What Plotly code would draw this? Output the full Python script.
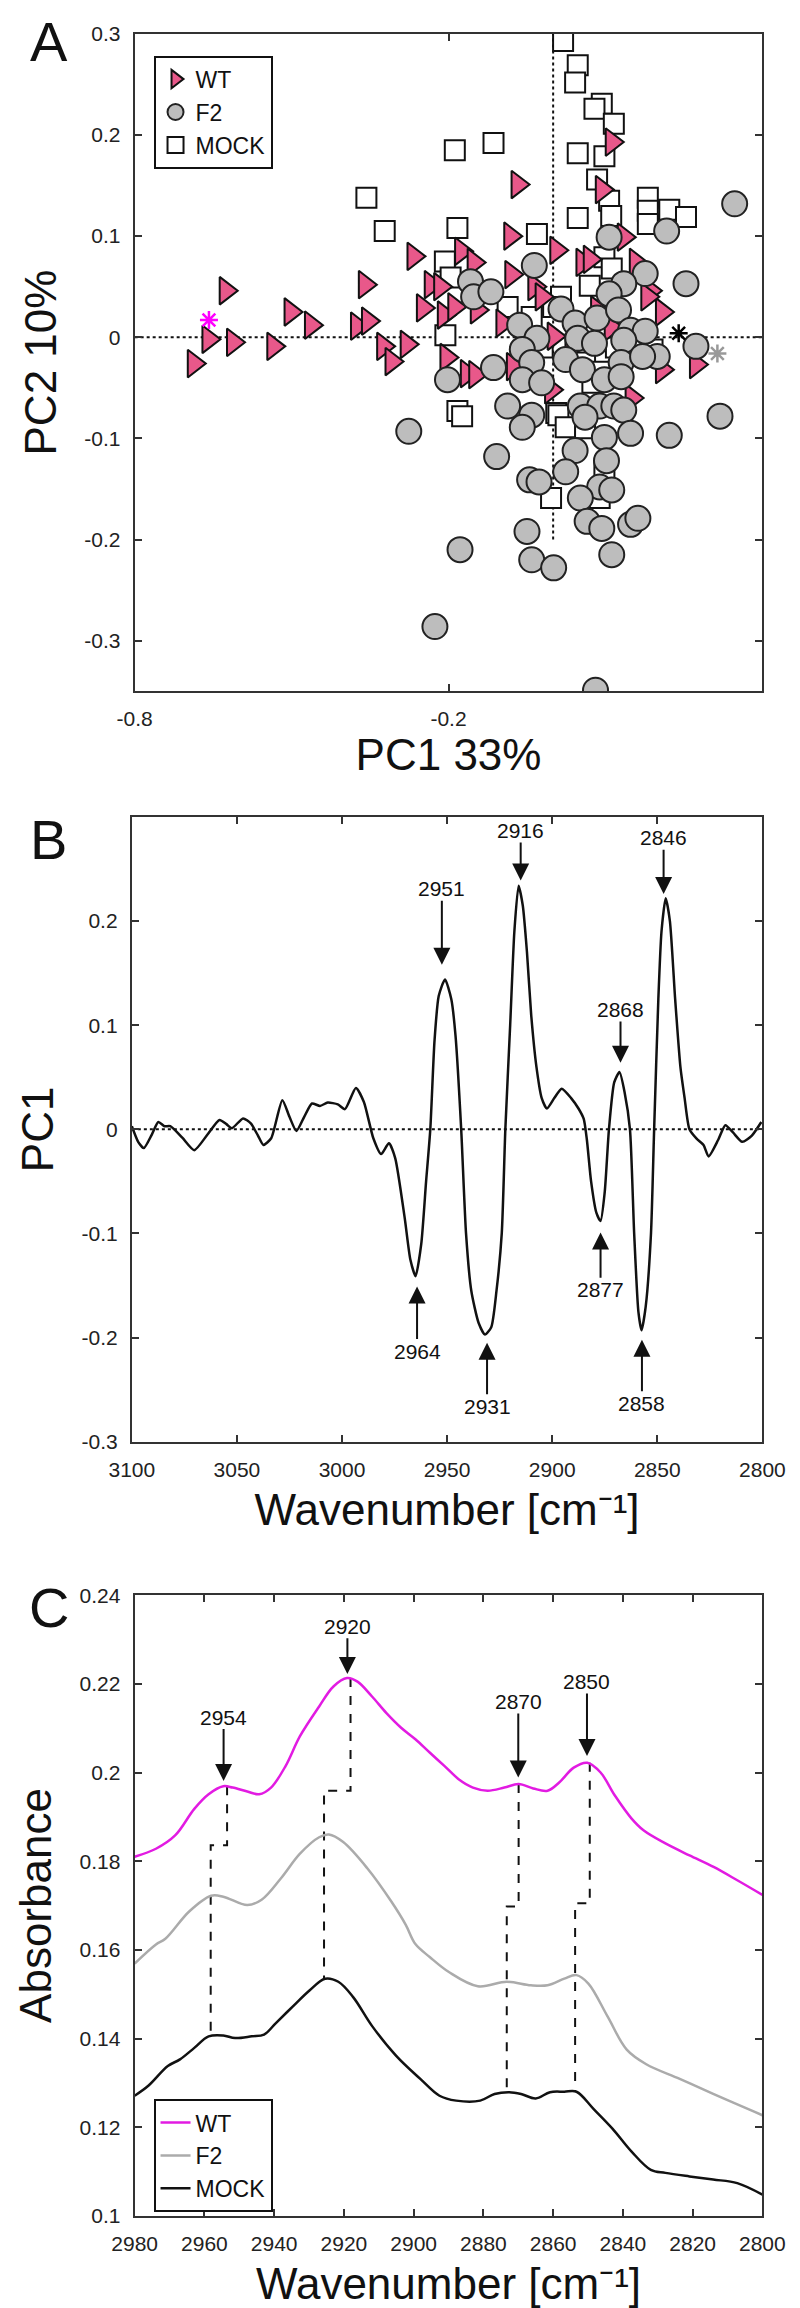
import plotly.graph_objects as go

FONT = "Liberation Sans, Arial, Helvetica, sans-serif"

# ---------------- Panel A : PCA scores ----------------
wt_pc1 = [-0.626, -0.659, -0.687, -0.612, -0.535, -0.502, -0.463, -0.375, -0.354, -0.360,
          -0.325, -0.309, -0.280, -0.267, -0.234, -0.216, -0.249, -0.209, -0.189, -0.176,
          -0.152, -0.146, -0.204, -0.165, -0.149, -0.097, -0.082, -0.080, -0.068, -0.036,
          0.006, 0.001, 0.056, 0.070, 0.093, 0.112, 0.135, 0.158, 0.185, 0.208,
          0.273, 0.208, -0.077, -0.004, -0.022, 0.084, 0.121, 0.180, 0.150, 0.035, 0.110]
wt_pc2 = [0.046, -0.002, -0.026, -0.005, -0.009, 0.025, 0.012, 0.011, 0.016, 0.052,
          -0.009, -0.024, -0.007, 0.080, 0.052, 0.050, 0.029, 0.022, 0.030, 0.085,
          0.074, 0.027, -0.020, -0.036, -0.037, 0.014, 0.100, 0.062, 0.151, 0.050,
          0.086, 0.001, 0.074, 0.077, 0.146, 0.193, 0.099, 0.074, 0.046, 0.025,
          -0.027, -0.032, -0.029, -0.052, 0.040, 0.027, -0.035, 0.040, -0.060, -0.010, 0.010]

f2_pc1 = [0.347, 0.217, 0.107, 0.254, 0.176, 0.135, 0.107, -0.036, -0.158, -0.152,
          -0.119, 0.015, 0.042, 0.084, 0.125, -0.064, 0.148, 0.176, -0.031, 0.047,
          0.079, 0.135, 0.273, 0.199, -0.059, 0.024, -0.041, 0.056, 0.130, 0.171,
          -0.114, -0.202, -0.059, -0.022, 0.098, 0.130, 0.319, -0.087, 0.052, 0.089,
          0.116, 0.135, -0.041, -0.276, -0.059, 0.061, 0.098, 0.148, 0.222, -0.108,
          0.042, 0.102, 0.024, -0.045, -0.027, 0.089, 0.112, 0.052, 0.065, 0.093,
          0.148, 0.162, -0.050, -0.178, -0.041, 0.001, 0.112, -0.226, 0.081]
f2_pc2 = [0.132, 0.105, 0.099, 0.053, 0.063, 0.053, 0.043, 0.071, 0.055, 0.040,
          0.045, 0.028, 0.014, 0.019, 0.027, 0.012, 0.007, 0.006, -0.001, -0.001,
          -0.006, -0.003, -0.009, -0.019, -0.012, -0.022, -0.025, -0.032, -0.025, -0.019,
          -0.030, -0.042, -0.042, -0.045, -0.042, -0.039, -0.078, -0.068, -0.068, -0.068,
          -0.068, -0.072, -0.077, -0.093, -0.089, -0.079, -0.099, -0.095, -0.097, -0.118,
          -0.112, -0.122, -0.133, -0.141, -0.143, -0.148, -0.151, -0.159, -0.182, -0.189,
          -0.185, -0.179, -0.192, -0.210, -0.220, -0.228, -0.215, -0.286, -0.349]

mock_pc1 = [0.019, 0.047, 0.042, 0.093, 0.079, 0.116, -0.188, -0.114, 0.047, 0.098,
            0.084, 0.107, 0.111, -0.357, -0.322, -0.183, -0.031, 0.047, 0.181, 0.181,
            0.181, 0.222, 0.254, -0.207, -0.196, 0.098, 0.112, 0.070, 0.015, -0.087,
            -0.041, -0.206, 0.148, 0.190, 0.061, 0.089, 0.075, 0.006, -0.183, -0.174,
            0.010, 0.024, 0.061, -0.004, 0.089, 0.098, 0.000, 0.120, -0.020]
mock_pc2 = [0.293, 0.269, 0.252, 0.231, 0.226, 0.211, 0.185, 0.192, 0.182, 0.179,
            0.156, 0.135, 0.120, 0.138, 0.105, 0.108, 0.102, 0.118, 0.138, 0.125,
            0.112, 0.126, 0.119, 0.075, 0.059, 0.079, 0.068, 0.051, 0.040, 0.030,
            0.020, 0.002, -0.012, -0.012, -0.025, -0.034, -0.045, -0.075, -0.073, -0.078,
            -0.077, -0.089, -0.090, -0.159, -0.159, -0.133, 0.030, -0.010, -0.010]

# group means (asterisks)
mean_pc1 = [-0.658, 0.240, 0.314]
mean_pc2 = [0.017, 0.004, -0.016]
mean_colors = ["#FF00FF", "#000000", "#999999"]

a_xticks = [-0.8, -0.2]
a_yticks = [0.3, 0.2, 0.1, 0, -0.1, -0.2, -0.3]

# ---------------- Panel B : PC1 loadings ----------------
b_wn = [3100, 3097, 3094.3, 3090.5, 3087.4, 3084.5, 3081.7, 3076, 3070.3, 3064,
        3058.3, 3055, 3052.4, 3047.1, 3043.4, 3040, 3037.4, 3033.7, 3028.4, 3025,
        3021.7, 3018, 3014.3, 3010.5, 3006.8, 3002, 2998.6, 2993.4, 2989.6, 2985.1,
        2981.4, 2977.7, 2974.7, 2970.2, 2967.5, 2965, 2962.3, 2960, 2958, 2956,
        2954, 2951, 2948, 2946, 2943.3, 2941, 2938.5, 2935, 2932, 2929,
        2926.5, 2924, 2922.3, 2920, 2918, 2916, 2914, 2912, 2910, 2907.5,
        2905, 2902.5, 2899, 2895.5, 2891, 2887.5, 2885, 2883.5, 2881.5, 2879,
        2877, 2875, 2873, 2870.5, 2868, 2865.5, 2863, 2861, 2859, 2857.5,
        2855.5, 2853, 2851.5, 2849.5, 2848, 2846, 2844, 2841.5, 2839, 2837,
        2834.7, 2831.3, 2828, 2825.6, 2821, 2817.6, 2814, 2809.6, 2805, 2800.5]
b_pc1 = [0.003, -0.012, -0.018, -0.005, 0.007, 0.003, 0.003, -0.008, -0.020, -0.005,
         0.009, 0.005, 0.001, 0.0105, 0.0057, -0.006, -0.015, -0.0086, 0.028, 0.012,
         -0.0016, 0.012, 0.0248, 0.0225, 0.0257, 0.024, 0.0194, 0.0397, 0.0263, -0.0086,
         -0.0238, -0.0133, -0.0276, -0.0848, -0.125, -0.141, -0.110, -0.050, 0.0, 0.085,
         0.128, 0.144, 0.125, 0.090, 0.0, -0.100, -0.155, -0.186, -0.197, -0.190,
         -0.155, -0.100, 0.0, 0.100, 0.190, 0.234, 0.215, 0.170, 0.110, 0.060,
         0.030, 0.020, 0.030, 0.039, 0.030, 0.020, 0.010, -0.010, -0.050, -0.080,
         -0.088, -0.060, 0.0, 0.045, 0.055, 0.035, 0.0, -0.100, -0.175, -0.193,
         -0.170, -0.100, 0.0, 0.125, 0.190, 0.222, 0.200, 0.125, 0.060, 0.030,
         0.0, -0.009, -0.015, -0.026, -0.010, 0.004, -0.003, -0.012, -0.006, 0.007]

b_xticks = [3100, 3050, 3000, 2950, 2900, 2850, 2800]
b_yticks = [-0.3, -0.2, -0.1, 0, 0.1, 0.2]

# peak labels: text, x, arrow tip value, label centre value
b_peaks = ["2951", "2916", "2868", "2846", "2964", "2931", "2877", "2858"]
b_peaks_x = [2952.5, 2915.0, 2867.5, 2847.0, 2964.3, 2931.0, 2877.0, 2857.3]
b_peaks_tip = [0.158, 0.239, 0.064, 0.226, -0.151, -0.205, -0.099, -0.202]
b_peaks_lab = [0.231, 0.287, 0.115, 0.280, -0.213, -0.266, -0.154, -0.263]

# ---------------- Panel C : mean spectra ----------------
wt_wn = [2980, 2973.9, 2968.4, 2962.9, 2958.8, 2954.6, 2951.9, 2947.7, 2944.3, 2940.9,
         2936.7, 2932.6, 2927.1, 2923, 2919.1, 2916.1, 2912, 2907.8, 2903.6, 2899.5,
         2895.4, 2891.2, 2887.1, 2883, 2878.8, 2874, 2869.9, 2865.7, 2861.6, 2858.2,
         2854.1, 2850.2, 2846.4, 2842.3, 2837.5, 2834, 2827.8, 2820.9, 2814, 2807.2, 2800]
wt_abs = [0.1810, 0.1828, 0.1858, 0.1918, 0.1951, 0.1969, 0.1966, 0.1957, 0.1951, 0.1966,
          0.2015, 0.2082, 0.2149, 0.2194, 0.2213, 0.2205, 0.2172, 0.2134, 0.2101, 0.2075,
          0.2045, 0.2015, 0.1985, 0.1966, 0.1959, 0.1966, 0.1974, 0.1964, 0.1959, 0.1978,
          0.2011, 0.2022, 0.2000, 0.1948, 0.1896, 0.1869, 0.1840, 0.1813, 0.1787, 0.1757, 0.1724]

f2_wn = [2980, 2973.9, 2971.2, 2964.3, 2958.1, 2954.6, 2947.7, 2943.6, 2938.1, 2932.6,
         2927.1, 2924.3, 2920.2, 2913.3, 2906.4, 2902.3, 2899.5, 2895.4, 2889.9, 2881.6,
         2873.3, 2866.4, 2861.6, 2856.8, 2853.3, 2849.9, 2844.4, 2838.9, 2833.3, 2823.7,
         2814.1, 2800]
f2_abs = [0.1569, 0.1612, 0.1625, 0.1687, 0.1722, 0.1720, 0.1701, 0.1713, 0.1761, 0.1817,
          0.1854, 0.1860, 0.1843, 0.1784, 0.1709, 0.1657, 0.1613, 0.1584, 0.1550, 0.1518,
          0.1528, 0.1520, 0.1520, 0.1535, 0.1543, 0.1524, 0.1450, 0.1375, 0.1342, 0.1309,
          0.1275, 0.1227]

mock_wn = [2980, 2976, 2970.5, 2967, 2962.9, 2958.8, 2954.6, 2951.2, 2946.4, 2942.9,
           2939.5, 2934.7, 2929.8, 2925.4, 2921.6, 2917.4, 2911.9, 2905, 2898.1, 2892.6,
           2887.8, 2880.9, 2876.8, 2872.6, 2869.2, 2865, 2860.9, 2856.8, 2853.3, 2848.5,
           2843, 2837.5, 2832, 2827.8, 2820.9, 2814.1, 2807.2, 2800]
mock_abs = [0.1271, 0.1294, 0.1338, 0.1353, 0.1379, 0.1405, 0.1407, 0.1401, 0.1405, 0.1409,
            0.1435, 0.1472, 0.1509, 0.1535, 0.1528, 0.1494, 0.1428, 0.1361, 0.1309, 0.1271,
            0.1260, 0.1260, 0.1275, 0.1279, 0.1275, 0.1265, 0.1279, 0.1280, 0.1280, 0.1242,
            0.1197, 0.1145, 0.1104, 0.1097, 0.1089, 0.1082, 0.1074, 0.1048]

c_xticks = [2980, 2960, 2940, 2920, 2900, 2880, 2860, 2840, 2820, 2800]
c_yticks = [0.1, 0.12, 0.14, 0.16, 0.18, 0.2, 0.22, 0.24]

# band-shift guides: (upper x, upper y top, step y, lower x, lower y bottom)
c_guides_upper_x = [2953.5, 2918.1, 2869.9, 2849.5]
c_guides_top = [0.1969, 0.2213, 0.1974, 0.2022]
c_guides_step = [0.1836, 0.1959, 0.1698, 0.1705]
c_guides_lower_x = [2958.2, 2925.7, 2873.3, 2853.7]
c_guides_bottom = [0.1409, 0.1535, 0.1279, 0.1280]

c_peaks = ["2954", "2920", "2870", "2850"]
c_peaks_x = [2954.5, 2919.0, 2870.0, 2850.3]
c_peaks_tip = [0.1981, 0.2222, 0.1989, 0.2037]
c_peaks_lab = [0.2125, 0.2330, 0.2160, 0.2205]

# ================= figure =================
fig = go.Figure()

# Panel A traces (MOCK under, WT, F2 on top)
fig.add_trace(go.Scatter(x=mock_pc1, y=mock_pc2, mode="markers", name="MOCK",
                         legend="legend", legendrank=3,
                         marker=dict(symbol="square", size=20, color="white",
                                     line=dict(color="#111111", width=2)),
                         xaxis="x", yaxis="y"))
fig.add_trace(go.Scatter(x=wt_pc1, y=wt_pc2, mode="markers", name="WT",
                         legend="legend", legendrank=1,
                         marker=dict(symbol="triangle-right", size=24, color="#E8588A",
                                     line=dict(color="#111111", width=2)),
                         xaxis="x", yaxis="y"))
fig.add_trace(go.Scatter(x=f2_pc1, y=f2_pc2, mode="markers", name="F2",
                         legend="legend", legendrank=2,
                         marker=dict(symbol="circle", size=25, color="#BDBDBD",
                                     line=dict(color="#222222", width=2)),
                         xaxis="x", yaxis="y"))
fig.add_trace(go.Scatter(x=mean_pc1, y=mean_pc2, mode="markers", showlegend=False,
                         marker=dict(symbol="asterisk-open", size=15, color=mean_colors,
                                     line=dict(color=mean_colors, width=2.5)),
                         xaxis="x", yaxis="y"))

# Panel B
fig.add_trace(go.Scatter(x=b_wn, y=b_pc1, mode="lines", showlegend=False,
                         line=dict(color="#111111", width=2.5, shape="spline", smoothing=0.6),
                         xaxis="x2", yaxis="y2"))

# Panel C guides
for ux, yt, ys, lx, yb in zip(c_guides_upper_x, c_guides_top, c_guides_step,
                              c_guides_lower_x, c_guides_bottom):
    fig.add_trace(go.Scatter(x=[ux, ux, lx, lx], y=[yt, ys, ys, yb], mode="lines",
                             showlegend=False,
                             line=dict(color="#111111", width=2, dash="dash"),
                             xaxis="x3", yaxis="y3"))

fig.add_trace(go.Scatter(x=wt_wn, y=wt_abs, mode="lines", name="WT", legend="legend2",
                         line=dict(color="#E21BE2", width=2.5, shape="spline"),
                         xaxis="x3", yaxis="y3"))
fig.add_trace(go.Scatter(x=f2_wn, y=f2_abs, mode="lines", name="F2", legend="legend2",
                         line=dict(color="#ABABAB", width=2.5, shape="spline"),
                         xaxis="x3", yaxis="y3"))
fig.add_trace(go.Scatter(x=mock_wn, y=mock_abs, mode="lines", name="MOCK", legend="legend2",
                         line=dict(color="#111111", width=2.5, shape="spline"),
                         xaxis="x3", yaxis="y3"))

# ---- annotations (label at arrow tail, arrow pointing to the band) ----
ann = []
arrow_kw = dict(showarrow=True, arrowhead=2, arrowsize=1.7, arrowwidth=2,
                arrowcolor="#111111", standoff=0, startstandoff=0,
                font=dict(family=FONT, size=21, color="#111111"),
                borderpad=0)

for t, x, tip, lab in zip(b_peaks, b_peaks_x, b_peaks_tip, b_peaks_lab):
    ann.append(dict(x=x, y=tip, ax=x, ay=lab, xref="x2", yref="y2",
                    axref="x2", ayref="y2", text=t, **arrow_kw))
for t, x, tip, lab in zip(c_peaks, c_peaks_x, c_peaks_tip, c_peaks_lab):
    ann.append(dict(x=x, y=tip, ax=x, ay=lab, xref="x3", yref="y3",
                    axref="x3", ayref="y3", text=t, **arrow_kw))

H = 2308.0
for letter, yc in [("A", 22), ("B", 828), ("C", 1603)]:
    ann.append(dict(x=19 / 800.0, y=1 - yc / H, xref="paper", yref="paper", text=letter,
                    showarrow=False, xanchor="center", yanchor="middle",
                    font=dict(family=FONT, size=56, color="#111111")))

# ---- reference lines ----
shapes = [
    dict(type="line", xref="x", yref="y", x0=-0.8, x1=0.4, y0=0, y1=0, layer="below",
         line=dict(color="#111111", width=2, dash="dot")),
    dict(type="line", xref="x", yref="y", x0=0, x1=0, y0=-0.2, y1=0.3, layer="below",
         line=dict(color="#111111", width=2, dash="dot")),
    dict(type="line", xref="x2", yref="y2", x0=3100, x1=2800, y0=0, y1=0, layer="below",
         line=dict(color="#111111", width=2, dash="dot")),
]

def ax_style(**kw):
    d = dict(showline=True, mirror="ticks", linecolor="#333333", linewidth=2,
             ticks="inside", ticklen=7, tickwidth=2, tickcolor="#333333",
             showgrid=False, zeroline=False, ticklabelstandoff=8,
             tickfont=dict(family=FONT, size=21, color="#222222"))
    d.update(kw)
    return d

def fmt(v):
    return "%g" % v

title_font = dict(family=FONT, size=44, color="#111111")
XD = [110 / 800.0, 776 / 800.0]
WN_TITLE = "Wavenumber [cm\u207b\u00b9]"

fig.update_layout(
    width=800, height=2308,
    margin=dict(l=0, r=0, t=0, b=0),
    paper_bgcolor="white", plot_bgcolor="white",
    font=dict(family=FONT, color="#111111"),
    xaxis=ax_style(domain=XD, range=[-0.8, 0.4], anchor="y",
                   tickvals=a_xticks, ticktext=[fmt(v) for v in a_xticks],
                   title=dict(text="PC1 33%", font=title_font, standoff=6)),
    yaxis=ax_style(domain=[1 - 678 / H, 1 - 14 / H], range=[-0.35, 0.3], anchor="x",
                   tickvals=a_yticks, ticktext=[fmt(v) for v in a_yticks],
                   title=dict(text="PC2 10%", font=title_font, standoff=14)),
    xaxis2=ax_style(domain=[107 / 800.0, 776 / 800.0], range=[3100, 2800], anchor="y2",
                    tickvals=b_xticks, ticktext=[fmt(v) for v in b_xticks],
                    title=dict(text=WN_TITLE, font=title_font, standoff=14)),
    yaxis2=ax_style(domain=[1 - 1436 / H, 1 - 805 / H], range=[-0.3, 0.3], anchor="x2",
                    tickvals=b_yticks, ticktext=[fmt(v) for v in b_yticks],
                    title=dict(text="PC1", font=title_font, standoff=14)),
    xaxis3=ax_style(domain=XD, range=[2980, 2800], anchor="y3",
                    tickvals=c_xticks, ticktext=[fmt(v) for v in c_xticks],
                    title=dict(text=WN_TITLE, font=title_font, standoff=14)),
    yaxis3=ax_style(domain=[1 - 2218 / H, 1 - 1591 / H], range=[0.1, 0.24], anchor="x3",
                    tickvals=c_yticks, ticktext=[fmt(v) for v in c_yticks],
                    title=dict(text="Absorbance", font=title_font, standoff=14)),
    legend=dict(x=130 / 800.0, y=1 - 36 / H, xanchor="left", yanchor="top",
                bordercolor="#111111", borderwidth=2, bgcolor="white",
                font=dict(family=FONT, size=23, color="#111111"),
                itemwidth=30, tracegroupgap=0),
    legend2=dict(x=130 / 800.0, y=1 - 2100 / H, xanchor="left", yanchor="top",
                 bordercolor="#111111", borderwidth=2, bgcolor="white",
                 font=dict(family=FONT, size=23, color="#111111"),
                 itemwidth=30, tracegroupgap=0),
    annotations=ann,
    shapes=shapes,
)

fig.write_html("out.html")
